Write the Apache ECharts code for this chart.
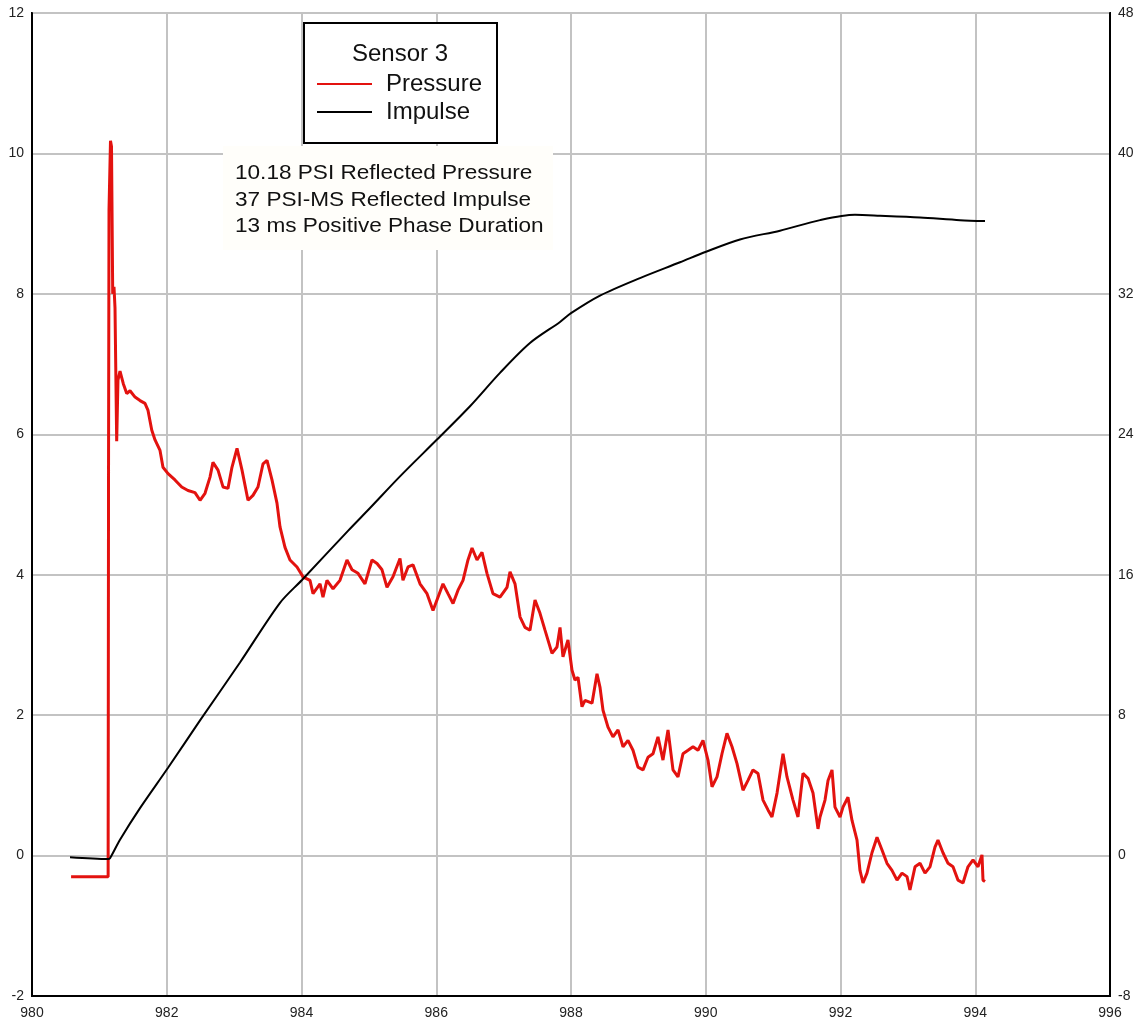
<!DOCTYPE html>
<html>
<head>
<meta charset="utf-8">
<title>Sensor 3</title>
<script src="https://cdn.jsdelivr.net/npm/echarts@6/dist/echarts.min.js"></script>
<style>
  html, body { margin: 0; padding: 0; background: #ffffff; }
  #chart { width: 1143px; height: 1028px; }
</style>
</head>
<body>
<div id="chart"></div>
<script>
// Time axis (ms) and both vertical axes
const timeTicks = { min: 980, max: 996, interval: 2 };
const pressureTicks = { min: -2, max: 12, interval: 2 };
const impulseTicks = { min: -8, max: 48, interval: 8 };

// Reflected pressure trace (PSI) vs time (ms)
const pressureMs = [
  980.58, 981.13, 981.133, 981.136, 981.143, 981.165, 981.18, 981.198, 981.217, 981.232,
  981.257, 981.276, 981.306, 981.355, 981.406, 981.455, 981.529, 981.603, 981.677, 981.722,
  981.777, 981.826, 981.900, 981.944, 982.019, 982.122, 982.222, 982.315, 982.419, 982.494,
  982.568, 982.642, 982.686, 982.761, 982.835, 982.909, 982.968, 983.043, 983.117, 983.206,
  983.280, 983.354, 983.429, 983.488, 983.562, 983.636, 983.681, 983.755, 983.829, 983.933,
  984.022, 984.126, 984.171, 984.275, 984.319, 984.378, 984.468, 984.571, 984.675, 984.750,
  984.839, 984.942, 985.046, 985.121, 985.195, 985.269, 985.358, 985.462, 985.506, 985.581,
  985.655, 985.759, 985.863, 985.952, 986.026, 986.100, 986.174, 986.249, 986.323, 986.397,
  986.471, 986.531, 986.605, 986.679, 986.753, 986.842, 986.946, 987.050, 987.095, 987.169,
  987.243, 987.317, 987.391, 987.466, 987.540, 987.614, 987.718, 987.792, 987.837, 987.881,
  987.955, 988.015, 988.059, 988.104, 988.163, 988.208, 988.312, 988.386, 988.430, 988.475,
  988.549, 988.623, 988.698, 988.772, 988.846, 988.920, 988.994, 989.069, 989.143, 989.217,
  989.291, 989.365, 989.440, 989.514, 989.588, 989.662, 989.737, 989.811, 989.885, 989.959,
  990.033, 990.093, 990.167, 990.241, 990.315, 990.390, 990.464, 990.553, 990.627, 990.701,
  990.776, 990.850, 990.924, 990.983, 991.058, 991.147, 991.206, 991.295, 991.369, 991.443,
  991.518, 991.592, 991.666, 991.696, 991.770, 991.815, 991.874, 991.918, 991.993, 992.037,
  992.111, 992.171, 992.245, 992.289, 992.334, 992.393, 992.467, 992.542, 992.616, 992.690,
  992.764, 992.839, 992.913, 992.987, 993.031, 993.106, 993.180, 993.254, 993.328, 993.402,
  993.447, 993.521, 993.596, 993.670, 993.744, 993.818, 993.892, 993.967, 994.041, 994.100,
  994.115, 994.145
];
const pressurePsi = [
  -0.30, -0.30, -0.30, 5.50, 9.20, 10.18, 10.10, 8.00, 8.10, 7.80,
  5.90, 6.77, 6.90, 6.72, 6.58, 6.62, 6.53, 6.48, 6.44, 6.34,
  6.06, 5.92, 5.77, 5.53, 5.44, 5.35, 5.25, 5.20, 5.17, 5.06,
  5.16, 5.39, 5.60, 5.49, 5.25, 5.23, 5.53, 5.80, 5.49, 5.06,
  5.13, 5.25, 5.58, 5.63, 5.35, 5.02, 4.68, 4.39, 4.21, 4.11,
  3.97, 3.92, 3.73, 3.87, 3.68, 3.92, 3.80, 3.92, 4.21, 4.07,
  4.02, 3.87, 4.21, 4.16, 4.07, 3.82, 3.97, 4.23, 3.92, 4.11,
  4.14, 3.87, 3.73, 3.49, 3.68, 3.87, 3.73, 3.59, 3.78, 3.92,
  4.21, 4.38, 4.21, 4.32, 4.02, 3.73, 3.68, 3.82, 4.04, 3.87,
  3.40, 3.25, 3.21, 3.64, 3.45, 3.21, 2.88, 2.97, 3.25, 2.83,
  3.07, 2.64, 2.50, 2.54, 2.12, 2.21, 2.17, 2.59, 2.40, 2.07,
  1.83, 1.69, 1.79, 1.55, 1.64, 1.50, 1.26, 1.22, 1.40, 1.45,
  1.69, 1.36, 1.79, 1.22, 1.12, 1.45, 1.50, 1.55, 1.50, 1.64,
  1.36, 0.98, 1.12, 1.45, 1.74, 1.55, 1.31, 0.93, 1.07, 1.22,
  1.17, 0.79, 0.65, 0.55, 0.89, 1.45, 1.12, 0.79, 0.55, 1.17,
  1.10, 0.89, 0.38, 0.55, 0.79, 1.07, 1.22, 0.69, 0.55, 0.69,
  0.83, 0.50, 0.22, -0.21, -0.39, -0.25, 0.04, 0.26, 0.08, -0.11,
  -0.21, -0.35, -0.25, -0.30, -0.49, -0.16, -0.11, -0.25, -0.16, 0.12,
  0.22, 0.04, -0.11, -0.16, -0.35, -0.39, -0.16, -0.06, -0.16, 0.01,
  -0.35, -0.37
];

// Reflected impulse (PSI-ms) vs time (ms)
const impulseMs = [
  980.564, 981.128, 981.158, 981.306, 981.603, 982.019, 982.494, 983.087, 983.681, 984.007,
  984.690, 985.017, 985.462, 986.011, 986.501, 986.946, 987.391, 987.837, 988.000, 988.430,
  989.024, 989.618, 990.004, 990.508, 991.102, 991.696, 992.215, 992.586, 993.180, 993.774,
  994.145
];
const impulsePsiMs = [
  -0.10, -0.20, -0.15, 0.90, 2.70, 5.00, 7.70, 11.00, 14.40, 15.70,
  18.50, 19.80, 21.60, 23.70, 25.60, 27.50, 29.20, 30.40, 30.90, 31.90,
  32.90, 33.80, 34.40, 35.10, 35.60, 36.20, 36.50, 36.45, 36.35, 36.20,
  36.15
];

const legendTitle = 'Sensor 3';
const summaryLines = [
  '10.18 PSI Reflected Pressure',
  '37 PSI-MS Reflected Impulse',
  '13 ms Positive Phase Duration'
];

const pressureData = pressureMs.map((t, i) => [t, pressurePsi[i]]);
const impulseData = impulseMs.map((t, i) => [t, impulsePsiMs[i]]);

const FONT = '"Liberation Sans", Arial, sans-serif';
const gridLine = { show: true, lineStyle: { color: '#c3c3c3', width: 2 } };
const tickLabel = { color: '#222222', fontFamily: FONT, fontSize: 14 };
const frameLine = { show: true, onZero: false, lineStyle: { color: '#000000', width: 2 } };

function summaryText(line, y) {
  return {
    type: 'text', z: 11,
    x: 235, y: y, scaleX: 1.075,
    style: { text: line, fill: '#111111', font: '21px ' + FONT, verticalAlign: 'middle' }
  };
}

const chart = echarts.init(document.getElementById('chart'), null, { renderer: 'canvas' });

chart.setOption({
  animation: false,
  backgroundColor: '#ffffff',
  grid: {
    left: 32, right: 33, top: 13, bottom: 32,
    show: true, borderColor: '#000000', borderWidth: 2, backgroundColor: 'transparent'
  },
  xAxis: {
    type: 'value',
    min: timeTicks.min, max: timeTicks.max, interval: timeTicks.interval,
    axisLine: frameLine,
    axisTick: { show: false },
    axisLabel: Object.assign({ margin: 10 }, tickLabel),
    splitLine: gridLine
  },
  yAxis: [
    {
      type: 'value',
      min: pressureTicks.min, max: pressureTicks.max, interval: pressureTicks.interval,
      axisLine: frameLine,
      axisTick: { show: false },
      axisLabel: Object.assign({ margin: 8 }, tickLabel),
      splitLine: gridLine
    },
    {
      type: 'value',
      position: 'right',
      min: impulseTicks.min, max: impulseTicks.max, interval: impulseTicks.interval,
      axisLine: frameLine,
      axisTick: { show: false },
      axisLabel: Object.assign({ margin: 8 }, tickLabel),
      splitLine: { show: false }
    }
  ],
  legend: {
    orient: 'vertical',
    left: 317, top: 72,
    padding: 0,
    itemGap: 4,
    itemWidth: 55,
    itemHeight: 2,
    icon: 'rect',
    z: 20,
    textStyle: { color: '#111111', fontFamily: FONT, fontSize: 24, lineHeight: 21, padding: [0, 0, 0, 9] },
    data: ['Pressure', 'Impulse']
  },
  graphic: [
    {
      type: 'rect', z: 10,
      shape: { x: 304, y: 23, width: 193, height: 120 },
      style: { fill: '#ffffff', stroke: '#000000', lineWidth: 2 }
    },
    {
      type: 'text', z: 11,
      x: 400, y: 54,
      style: { text: legendTitle, fill: '#111111', font: '24px ' + FONT, align: 'center', verticalAlign: 'middle' }
    },
    {
      type: 'rect', z: 10,
      shape: { x: 223, y: 146, width: 330, height: 104 },
      style: { fill: '#fffefa' }
    },
    summaryText(summaryLines[0], 173),
    summaryText(summaryLines[1], 200),
    summaryText(summaryLines[2], 226)
  ],
  series: [
    {
      name: 'Pressure',
      type: 'line',
      yAxisIndex: 0,
      data: pressureData,
      showSymbol: false,
      symbol: 'none',
      color: '#e3120f',
      lineStyle: { color: '#e3120f', width: 3 },
      z: 3
    },
    {
      name: 'Impulse',
      type: 'line',
      yAxisIndex: 1,
      data: impulseData,
      showSymbol: false,
      symbol: 'none',
      smooth: 0.3,
      color: '#000000',
      lineStyle: { color: '#000000', width: 2 },
      z: 4
    }
  ]
});
</script>
</body>
</html>
